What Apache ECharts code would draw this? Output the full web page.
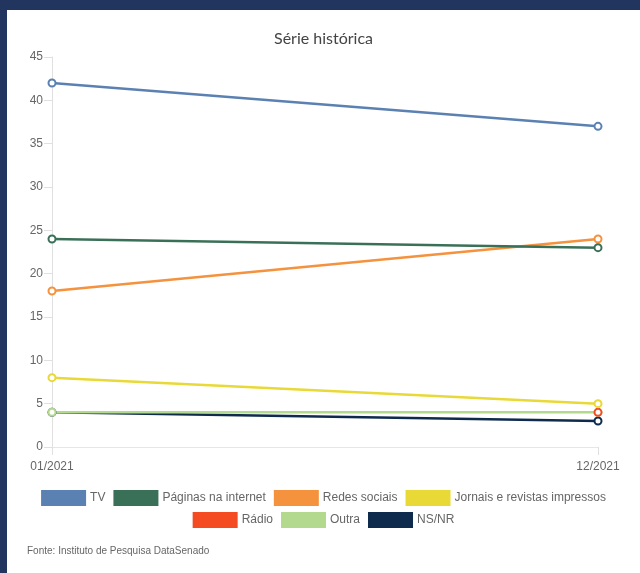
<!DOCTYPE html>
<html>
<head>
<meta charset="utf-8">
<script src="https://cdn.jsdelivr.net/npm/echarts@6/dist/echarts.min.js"></script>
<style>
  html, body { margin: 0; padding: 0; background: #22355f; width: 640px; height: 573px; overflow: hidden; }
  #chart { position: absolute; left: 7px; top: 10px; width: 633px; height: 563px; background: #ffffff; }
</style>
</head>
<body>
<div id="chart"></div>
<script>
const categories = ['01/2021', '12/2021'];
const seriesNames = ['TV', 'Páginas na internet', 'Redes sociais', 'Jornais e revistas impressos', 'Rádio', 'Outra', 'NS/NR'];
const tv = [42, 37];
const paginas = [24, 23];
const redes = [18, 24];
const jornais = [8, 5];
const radio = [null, 4];
const outra = [4, 4];
const nsnr = [4, 3];
const seriesValues = [tv, paginas, redes, jornais, radio, outra, nsnr];
const colors = ['#5b80b2', '#3b7058', '#f5923e', '#e8d937', '#f44b22', '#b3d98e', '#0e2b4e'];

const chart = echarts.init(document.getElementById('chart'));
const series = [];
for (let i = seriesNames.length - 1; i >= 0; i--) {
  series.push({
    name: seriesNames[i],
    type: 'line',
    data: seriesValues[i],
    symbol: 'emptyCircle',
    symbolSize: 7,
    showSymbol: true,
    showAllSymbol: true,
    color: colors[i],
    lineStyle: { width: 2.5, color: colors[i] },
    itemStyle: { color: colors[i], borderWidth: 2, borderColor: colors[i] },
    emphasis: { disabled: true },
    animation: false
  });
}
const legendCommon = {
  left: 'center',
  itemWidth: 43,
  itemHeight: 14,
  itemGap: 8,
  icon: 'rect',
  textStyle: { fontFamily: 'Liberation Sans', fontSize: 12, color: '#666' }
};
chart.setOption({
  animation: false,
  title: [
    { text: 'Série histórica', left: 'center', top: 16,
      textStyle: { fontFamily: 'Lato', fontSize: 16, fontWeight: 'normal', color: '#444' } },
    { text: 'Fonte: Instituto de Pesquisa DataSenado', left: 15, top: 531,
      textStyle: { fontFamily: 'Liberation Sans', fontSize: 10, fontWeight: 'normal', color: '#666' } }
  ],
  legend: [
    Object.assign({ data: seriesNames.slice(0, 4), top: 475 }, legendCommon),
    Object.assign({ data: seriesNames.slice(4), top: 497 }, legendCommon)
  ],
  grid: { left: 45, right: 42, top: 47, bottom: 126, containLabel: false },
  xAxis: {
    type: 'category',
    data: categories,
    boundaryGap: false,
    axisLine: { show: true, lineStyle: { color: '#e6e6e6' } },
    axisTick: { show: true, length: 8, lineStyle: { color: '#e0e0e0' } },
    axisLabel: { fontFamily: 'Liberation Sans', fontSize: 12, color: '#666', margin: 14 },
    splitLine: { show: false }
  },
  yAxis: {
    type: 'value',
    min: 0, max: 45, interval: 5,
    axisLine: { show: true, lineStyle: { color: '#e0e0e0' } },
    axisTick: { show: true, length: 8, lineStyle: { color: '#e0e0e0' } },
    axisLabel: { fontFamily: 'Liberation Sans', fontSize: 12, color: '#666', margin: 9 },
    splitLine: { show: false }
  },
  series: series
});
</script>
</body>
</html>
